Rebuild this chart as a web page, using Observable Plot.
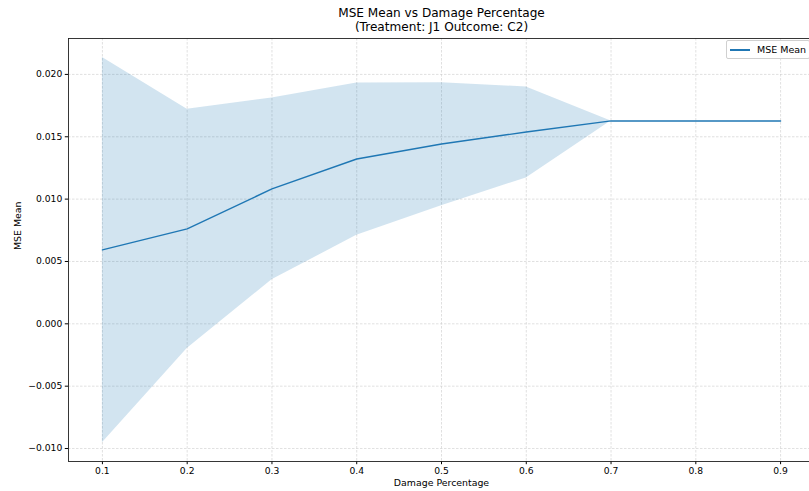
<!DOCTYPE html>
<html>
<head>
<meta charset="utf-8">
<script src="https://cdn.jsdelivr.net/npm/d3@7"></script>
<script src="https://cdn.jsdelivr.net/npm/@observablehq/plot@0.6"></script>
<style>
  html, body { margin: 0; padding: 0; overflow: hidden; background: #fff; }
  #wrap { position: relative; width: 814px; height: 491px; font-family: "DejaVu Sans", sans-serif; }
  #legend { position: absolute; left: 726px; top: 40px; width: 84px; height: 19px; border: 1px solid #d0d0d0; border-radius: 2px; background: rgba(255,255,255,0.8); font-size: 9.5px; color: #000; box-sizing: border-box; }
  #legend .sw { position: absolute; left: 3px; top: 8px; width: 20px; height: 1.6px; background: #1f77b4; }
  #legend .lb { position: absolute; left: 30px; top: 2.5px; white-space: nowrap; }
</style>
</head>
<body>
<div id="wrap"><div id="legend"><div class="sw"></div><div class="lb">MSE Mean</div></div></div>
<script>
const damage = [0.1, 0.2, 0.3, 0.4, 0.5, 0.6, 0.7, 0.8, 0.9];
const mseMean = [0.00593, 0.00761, 0.01082, 0.01322, 0.01442, 0.01538, 0.01627, 0.01627, 0.01627];
const mseUpper = [0.02135, 0.01721, 0.01811, 0.01932, 0.01934, 0.01899, 0.01627, 0.01627, 0.01627];
const mseLower = [-0.00954, -0.00198, 0.00353, 0.00710, 0.00946, 0.01170, 0.01627, 0.01627, 0.01627];
const xTicks = [0.1, 0.2, 0.3, 0.4, 0.5, 0.6, 0.7, 0.8, 0.9];
const yTicks = [-0.010, -0.005, 0.000, 0.005, 0.010, 0.015, 0.020];
const titleLines = ["MSE Mean vs Damage Percentage", "(Treatment: J1 Outcome: C2)"];

const rows = damage.map((d, i) => ({x: d, mean: mseMean[i], lo: mseLower[i], hi: mseUpper[i]}));

const chart = Plot.plot({
  width: 814,
  height: 491,
  marginLeft: 68,
  marginRight: 0,
  marginTop: 38,
  marginBottom: 30,
  style: {fontFamily: "DejaVu Sans, sans-serif", fontSize: "9px", color: "#000", background: "#fff"},
  x: {domain: [0.06, 0.94], label: null},
  y: {domain: [-0.01104, 0.02288], label: null},
  marks: [
    Plot.gridX(xTicks, {stroke: "#c8c8c8", strokeOpacity: 0.8, strokeDasharray: "2.5,1.5", strokeWidth: 0.7}),
    Plot.gridY(yTicks, {stroke: "#c8c8c8", strokeOpacity: 0.8, strokeDasharray: "2.5,1.5", strokeWidth: 0.7}),
    Plot.areaY(rows, {x: "x", y1: "lo", y2: "hi", fill: "#1f77b4", fillOpacity: 0.2}),
    Plot.lineY(rows, {x: "x", y: "mean", stroke: "#1f77b4", strokeWidth: 1.4}),
    Plot.axisX(xTicks, {tickSize: 3.2, tickPadding: 3, tickFormat: d3.format(".1f"), fontSize: 9.2, label: null, stroke: "#000"}),
    Plot.axisY(yTicks, {tickSize: 3.2, tickPadding: 3, tickFormat: d3.format(".3f"), fontSize: 9.2, label: null, stroke: "#000"}),
    Plot.frame({stroke: "#222", strokeWidth: 0.9}),
    Plot.text([titleLines[0]], {frameAnchor: "top", dy: -30.5, fontSize: 12.1, fill: "#000"}),
    Plot.text([titleLines[1]], {frameAnchor: "top", dy: -16.5, fontSize: 12.1, fill: "#000"}),
    Plot.text(["Damage Percentage"], {frameAnchor: "bottom", dy: 24, fontSize: 9.4, fill: "#000"}),
    Plot.text(["MSE Mean"], {frameAnchor: "left", dx: -51, rotate: -90, fontSize: 9.4, fill: "#000"})
  ]
});
document.getElementById("wrap").prepend(chart);
</script>
</body>
</html>
